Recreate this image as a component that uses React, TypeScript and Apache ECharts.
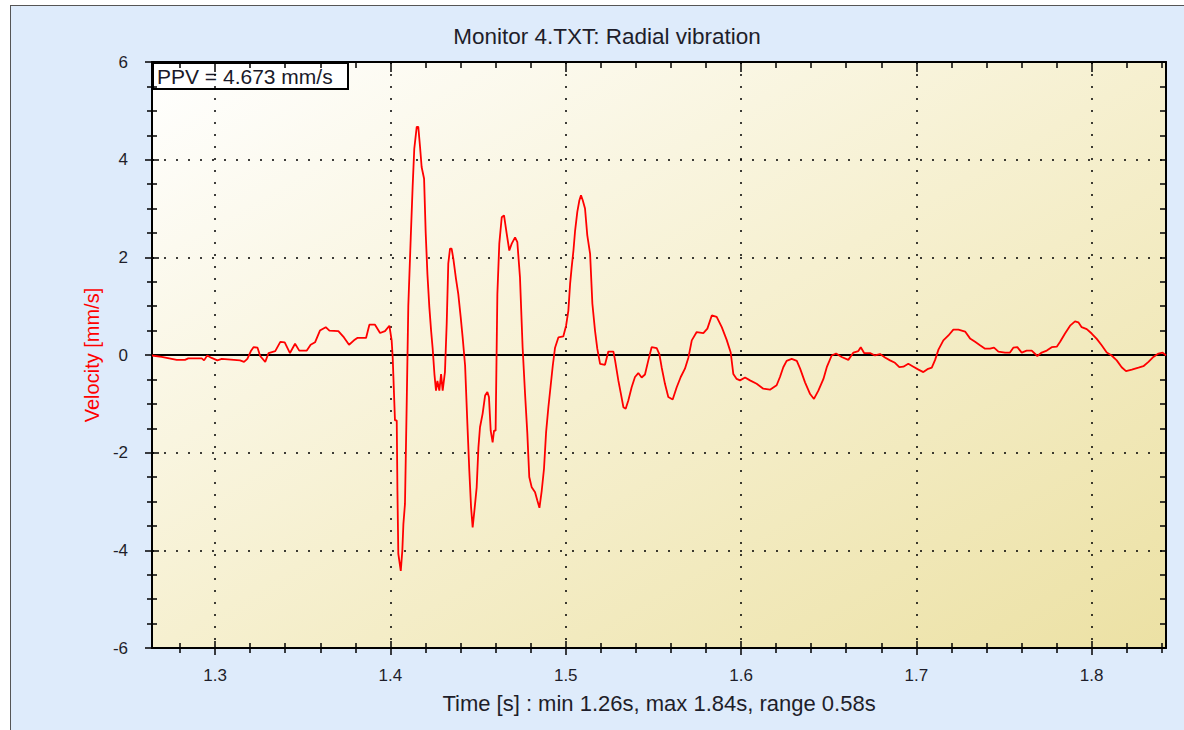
import React, { useEffect, useRef } from "react";
import * as echarts from "echarts";

const chartTitle = "Monitor 4.TXT: Radial vibration";
const xTitle = "Time [s] : min 1.26s, max 1.84s, range 0.58s";
const yTitle = "Velocity [mm/s]";
const ppvLabel = "PPV = 4.673 mm/s";

const xMin = 1.264;
const xMax = 1.8424;
const yMin = -6;
const yMax = 6;
const yStep = 2;

const majorX = [1.3, 1.4, 1.5, 1.6, 1.7, 1.8];
const minorX = [
  1.28, 1.32, 1.34, 1.36, 1.38, 1.42, 1.44, 1.46, 1.48, 1.52, 1.54, 1.56, 1.58,
  1.62, 1.64, 1.66, 1.68, 1.72, 1.74, 1.76, 1.78, 1.82, 1.84,
];

const timeS = [
  1.264, 1.2695, 1.2781, 1.2828, 1.2847, 1.2924, 1.2937, 1.2955, 1.298, 1.3013,
  1.3038, 1.3142, 1.3165, 1.3184, 1.3204, 1.3219, 1.3242, 1.3257, 1.3286, 1.3305,
  1.3343, 1.3372, 1.3397, 1.3427, 1.3456, 1.348, 1.3523, 1.3545, 1.357, 1.3598,
  1.3631, 1.3652, 1.3703, 1.3735, 1.3764, 1.3792, 1.3811, 1.3861, 1.388, 1.3912,
  1.3941, 1.3969, 1.3994,
  1.4007, 1.4013, 1.4026, 1.4036, 1.404, 1.4045, 1.4059, 1.4068, 1.4074, 1.4083,
  1.4093, 1.4102, 1.4116, 1.4127, 1.4136, 1.415, 1.4159, 1.4169, 1.4178, 1.4192,
  1.4201, 1.4211, 1.4222, 1.4232, 1.4241, 1.4251, 1.426, 1.4268, 1.4279, 1.4289,
  1.4298, 1.4311, 1.4321, 1.433, 1.434, 1.4349, 1.4359, 1.4374, 1.4387, 1.4401,
  1.4412, 1.4426, 1.4439, 1.445, 1.446, 1.4469, 1.4479, 1.4492, 1.4502, 1.4511,
  1.4526, 1.454, 1.4553, 1.4562, 1.4572, 1.4583, 1.4591, 1.46, 1.461, 1.4621,
  1.4635, 1.4648, 1.4663, 1.4678, 1.4692, 1.4711, 1.4724, 1.4739, 1.4754, 1.4768,
  1.4781, 1.4792, 1.4806, 1.4825, 1.4838, 1.485, 1.4863, 1.4876, 1.4888, 1.4901,
  1.4914, 1.4926, 1.4939, 1.4958, 1.4986, 1.5002, 1.5015, 1.5025, 1.5034, 1.5044,
  1.5053, 1.5066, 1.5078, 1.5087, 1.5097, 1.511, 1.5123, 1.5139, 1.5152, 1.5167,
  1.518,
  1.5196, 1.5224, 1.5243, 1.5272, 1.5281, 1.53, 1.5315, 1.5329, 1.5342, 1.5357,
  1.5376, 1.5395, 1.5414, 1.5433, 1.5452, 1.5471, 1.549, 1.5519, 1.5534, 1.5547,
  1.5566, 1.5585, 1.561, 1.5633, 1.5656, 1.568, 1.57, 1.5719, 1.5747, 1.5785,
  1.5808, 1.5833, 1.5861, 1.589, 1.5918, 1.5941, 1.5956, 1.5975, 1.5994, 1.6023,
  1.6051, 1.6089, 1.6127, 1.6165, 1.6203, 1.6222, 1.6241, 1.626, 1.6289, 1.6318,
  1.6337, 1.6365, 1.6394, 1.6416, 1.6441, 1.647, 1.6489, 1.6517, 1.6542, 1.6574,
  1.6612, 1.6641, 1.6669,
  1.6683, 1.6702, 1.6736, 1.6764, 1.6793, 1.6821, 1.685, 1.6878, 1.6903, 1.6926,
  1.6954, 1.6983, 1.7012, 1.704, 1.7063, 1.7088, 1.7107, 1.7126, 1.7154, 1.7183,
  1.7211, 1.724, 1.7278, 1.7306, 1.7335, 1.7363, 1.7392, 1.742, 1.7443, 1.7468,
  1.7506, 1.7534, 1.7553, 1.7576, 1.7601, 1.7629, 1.7658, 1.769, 1.7715, 1.7744,
  1.7772, 1.7801, 1.782, 1.7848, 1.7877, 1.7905, 1.7924, 1.7943, 1.7972, 1.8,
  1.8029, 1.8057, 1.8086, 1.8114, 1.8143, 1.8171, 1.8196, 1.8229, 1.8267, 1.8295,
  1.8324, 1.8352, 1.8381, 1.8405, 1.8424,
];

const velocity = [
  -0.01, -0.04, -0.1, -0.1, -0.07, -0.07, -0.11, -0.01, -0.06, -0.11,
  -0.08, -0.11, -0.14, -0.08, 0.08, 0.16, 0.15, -0.02, -0.14, 0.04,
  0.08, 0.27, 0.26, 0.04, 0.23, 0.09, 0.09, 0.21, 0.26, 0.5,
  0.57, 0.5, 0.49, 0.36, 0.21, 0.3, 0.35, 0.35, 0.62, 0.62,
  0.45, 0.49, 0.6,
  0.3, -0.05, -1.34, -1.34, -2.78, -4.07, -4.42, -4.0, -3.46, -3.05,
  -0.97, 1.01, 2.41, 3.47, 4.22, 4.67, 4.67, 4.26, 3.85, 3.61,
  2.52, 1.66, 0.98, 0.5, 0.13, -0.39, -0.73, -0.53, -0.73, -0.39,
  -0.73, -0.35, 0.64, 1.87, 2.18, 2.18, 1.97, 1.56, 1.25, 0.77,
  0.36, -0.22, -1.41, -2.37, -3.12, -3.53, -3.19, -2.71, -1.89, -1.48,
  -1.2, -0.83, -0.76, -0.86, -1.55, -1.79, -1.55, -1.55, 1.25, 2.28,
  2.82, 2.86, 2.49, 2.14, 2.28, 2.41, 2.31, 1.59, 0.16, -0.8,
  -1.61, -2.5, -2.71, -2.81, -2.98, -3.13, -2.78, -2.33, -1.58, -1.07,
  -0.63, -0.22, 0.15, 0.36, 0.38, 0.6, 0.91, 1.46, 1.8, 2.14,
  2.53, 2.93, 3.17, 3.27, 3.17, 3.0, 2.45, 2.07, 1.05, 0.5,
  0.13,
  -0.18, -0.2, 0.07, 0.07, -0.1, -0.52, -0.8, -1.07, -1.1, -0.93,
  -0.66, -0.45, -0.37, -0.46, -0.4, -0.11, 0.16, 0.14, 0.02, -0.25,
  -0.59, -0.86, -0.91, -0.66, -0.45, -0.28, -0.05, 0.3, 0.47, 0.45,
  0.54, 0.81, 0.78, 0.57, 0.31, 0.05, -0.39, -0.49, -0.52, -0.46,
  -0.52, -0.59, -0.69, -0.71, -0.62, -0.45, -0.25, -0.12, -0.08, -0.12,
  -0.28, -0.56, -0.8, -0.9, -0.73, -0.49, -0.25, -0.01, 0.03, -0.04,
  -0.1, 0.05, 0.08,
  0.16, 0.04, 0.04, -0.01, 0.02, -0.05, -0.11, -0.16, -0.25, -0.24,
  -0.18, -0.24, -0.3, -0.35, -0.29, -0.26, -0.1, 0.11, 0.3, 0.4,
  0.52, 0.52, 0.48, 0.34, 0.27, 0.2, 0.13, 0.13, 0.15, 0.07,
  0.05, 0.05, 0.15, 0.16, 0.05, 0.09, 0.09, -0.02, 0.05, 0.09,
  0.16, 0.17, 0.27, 0.44, 0.6, 0.69, 0.67, 0.57, 0.53, 0.44,
  0.33, 0.2, 0.05, -0.01, -0.11, -0.25, -0.33, -0.3, -0.26, -0.23,
  -0.14, -0.04, 0.03, 0.05, -0.01,
];

const FONT = "'Liberation Sans', Arial, sans-serif";
const TEXT_COLOR = "#1e1e2a";

export default function App() {
  const ref = useRef<HTMLDivElement>(null);

  useEffect(() => {
    document.body.style.margin = "0";
    if (!ref.current) return;
    const chart = echarts.init(ref.current, null, { renderer: "svg" });

    const points = timeS.map((t, i) => [t, velocity[i]]);
    const black = "#000";
    const hidden = { show: false };
    const baseX = { type: "value", min: xMin, max: xMax, splitLine: hidden, axisLabel: hidden };
    const xTicks = (position: string, values: number[], inside: boolean, length: number, line = false) => ({
      ...baseX,
      position,
      axisLine: { show: line, onZero: false, lineStyle: { color: black, width: 2 } },
      axisTick: { show: true, inside, length, customValues: values, lineStyle: { color: black, width: 1.5 } },
    });
    const baseY = { type: "value", min: yMin, max: yMax, interval: yStep, splitLine: hidden, axisLabel: hidden };

    const option: any = {
      animation: false,
      backgroundColor: "transparent",
      title: {
        text: chartTitle,
        left: 596,
        top: 19,
        textAlign: "center",
        padding: 0,
        textStyle: { fontFamily: FONT, fontSize: 22.5, fontWeight: "normal", color: TEXT_COLOR },
      },
      grid: {
        left: 141,
        top: 56,
        right: 18,
        bottom: 82,
        show: true,
        borderWidth: 0,
        backgroundColor: new echarts.graphic.LinearGradient(0, 0, 1, 1, [
          { offset: 0, color: "#FFFFFF" },
          { offset: 0.5, color: "#F6F0D0" },
          { offset: 1, color: "#ECE1A4" },
        ]),
      },
      xAxis: [
        {
          ...baseX,
          position: "bottom",
          axisLine: { show: true, onZero: false, lineStyle: { color: black, width: 2 } },
          axisTick: { show: true, inside: false, length: 7, customValues: majorX, lineStyle: { color: black, width: 1.5 } },
          axisLabel: {
            show: true,
            customValues: majorX,
            margin: 19,
            color: TEXT_COLOR,
            fontFamily: FONT,
            fontSize: 17,
            formatter: (v: number) => v.toFixed(1),
          },
          splitLine: { show: true, lineStyle: { color: black, type: [2, 10], width: 1.5 } },
          name: xTitle,
          nameLocation: "middle",
          nameGap: 44,
          nameTextStyle: { fontFamily: FONT, fontSize: 22, color: TEXT_COLOR },
        },
        xTicks("bottom", majorX, true, 7),
        xTicks("bottom", minorX, false, 5),
        xTicks("bottom", minorX, true, 5),
        xTicks("top", majorX, true, 10, true),
        xTicks("top", minorX, true, 6),
      ],
      yAxis: [
        {
          ...baseY,
          position: "left",
          axisLine: { show: true, onZero: false, lineStyle: { color: black, width: 2 } },
          axisTick: { show: true, inside: false, length: 7, lineStyle: { color: black, width: 1.5 } },
          minorTick: { show: true, splitNumber: 4, length: 5, lineStyle: { color: black, width: 1.5 } },
          axisLabel: { show: true, margin: 24, color: TEXT_COLOR, fontFamily: FONT, fontSize: 17 },
          splitLine: { show: true, lineStyle: { color: black, type: [2, 10], width: 1.5 } },
          name: yTitle,
          nameLocation: "middle",
          nameGap: 50,
          nameTextStyle: { fontFamily: FONT, fontSize: 20, color: "#FF0000" },
        },
        {
          ...baseY,
          position: "left",
          axisLine: { show: false, onZero: false },
          axisTick: { show: true, inside: true, length: 7, lineStyle: { color: black, width: 1.5 } },
          minorTick: { show: true, splitNumber: 4, length: 5, lineStyle: { color: black, width: 1.5 } },
        },
        {
          ...baseY,
          position: "right",
          axisLine: { show: true, onZero: false, lineStyle: { color: black, width: 2 } },
          axisTick: { show: true, inside: true, length: 6, lineStyle: { color: black, width: 1.5 } },
          minorTick: { show: true, splitNumber: 4, length: 6, lineStyle: { color: black, width: 1.5 } },
        },
      ],
      series: [
        {
          type: "line",
          xAxisIndex: 0,
          yAxisIndex: 0,
          data: points,
          showSymbol: false,
          symbol: "none",
          lineStyle: { color: "#FF0000", width: 1.8 },
          z: 3,
          markLine: {
            silent: true,
            symbol: "none",
            label: { show: false },
            lineStyle: { color: "#000", width: 2, type: "solid" },
            data: [{ yAxis: 0 }],
            z: 2,
          },
        },
      ],
      graphic: [
        {
          type: "group",
          left: 141,
          top: 56,
          z: 10,
          children: [
            {
              type: "rect",
              shape: { x: 0, y: 0, width: 195, height: 26 },
              style: { fill: "#FFFFFF", stroke: "#000", lineWidth: 2 },
            },
            {
              type: "text",
              x: 4,
              y: 13,
              style: {
                text: ppvLabel,
                fontFamily: FONT,
                fontSize: 21,
                fill: "#1a1a2a",
                textVerticalAlign: "middle",
              },
            },
          ],
        },
      ],
    };

    chart.setOption(option);
    return () => chart.dispose();
  }, []);

  return (
    <div style={{ position: "absolute", left: 0, top: 0, width: 1184, height: 730, background: "#FFFFFF", overflow: "hidden" }}>
      <div
        style={{
          position: "absolute",
          left: 10,
          top: 5,
          width: 1173,
          height: 724,
          background: "#DEEBFB",
          borderLeft: "1px solid #555",
          borderTop: "1px solid #555",
        }}
      >
        <div ref={ref} style={{ width: 1173, height: 724 }} />
      </div>
    </div>
  );
}
